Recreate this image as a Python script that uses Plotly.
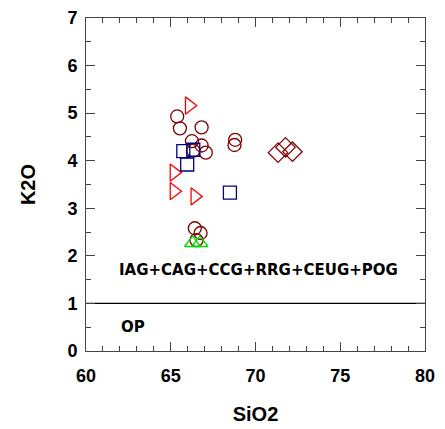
import plotly.graph_objects as go

# SiO2 / K2O analyses grouped by marker style
tri_right_x = [66.09, 65.19, 65.19, 66.42]
tri_right_y = [5.16, 3.75, 3.36, 3.25]

circle_x = [65.38, 65.54, 66.82, 66.25, 66.82, 67.07, 66.33, 68.80, 68.76, 66.42, 66.76, 66.52]
circle_y = [4.93, 4.68, 4.70, 4.41, 4.32, 4.17, 4.21, 4.44, 4.33, 2.58, 2.48, 2.33]

square_x = [65.74, 66.33, 65.97, 68.49]
square_y = [4.20, 4.23, 3.92, 3.33]

diamond_x = [71.33, 71.77, 72.18]
diamond_y = [4.17, 4.28, 4.19]

tri_up_x = [66.29, 66.72]
tri_up_y = [2.27, 2.27]

boundary_x = [60, 80]
boundary_y = [1, 1]

fig = go.Figure()

fig.add_trace(go.Scatter(x=boundary_x, y=boundary_y, mode="lines",
                         line=dict(color="black", width=1.2), hoverinfo="skip"))

def add_points(xs, ys, symbol, color, size):
    # open symbols take their stroke colour from marker.color
    fig.add_trace(go.Scatter(
        x=xs, y=ys, mode="markers",
        marker=dict(symbol=symbol, size=size, color=color,
                    line=dict(width=1.3))))

add_points(circle_x, circle_y, "circle-open", "#800000", 13)
add_points(tri_right_x, tri_right_y, "triangle-right-open", "#FF0000", 15)
add_points(square_x, square_y, "square-open", "#000080", 13)
add_points(diamond_x, diamond_y, "diamond-open", "#800000", 15)
add_points(tri_up_x, tri_up_y, "triangle-up-open", "#00DD00", 14)

tick_font = dict(family="Liberation Sans", size=18, color="black", weight="bold")
title_font = dict(family="Liberation Sans", size=20, color="black", weight="bold")

fig.update_xaxes(
    range=[60, 80], dtick=5, tick0=60, ticks="inside", ticklen=9, tickwidth=1,
    minor=dict(dtick=1, ticks="inside", ticklen=5, tickwidth=1, tickcolor="#444"),
    showline=True, linecolor="#444", linewidth=1, mirror="ticks",
    showgrid=False, zeroline=False, tickfont=tick_font, ticklabelstandoff=8,
    automargin=False,
    title=dict(text="SiO2", font=title_font, standoff=22))
fig.update_yaxes(
    range=[0, 7], dtick=1, tick0=0, ticks="inside", ticklen=9, tickwidth=1,
    minor=dict(dtick=0.5, ticks="inside", ticklen=5, tickwidth=1, tickcolor="#444"),
    showline=True, linecolor="#444", linewidth=1, mirror="ticks",
    showgrid=False, zeroline=False, tickfont=tick_font, ticklabelstandoff=4,
    automargin=False,
    title=dict(text="K2O", font=title_font, standoff=26))

ann_font = dict(family="DejaVu Sans", size=15, color="black", weight="bold")
fig.add_annotation(x=70.2, y=1.7, text="IAG+CAG+CCG+RRG+CEUG+POG",
                   showarrow=False, font=ann_font)
fig.add_annotation(x=62.8, y=0.5, text="OP", showarrow=False, font=ann_font)

fig.update_layout(
    width=445, height=429,
    margin=dict(l=86, r=20, t=18, b=78),
    plot_bgcolor="white", paper_bgcolor="white",
    showlegend=False)

fig.write_html("out.html")
